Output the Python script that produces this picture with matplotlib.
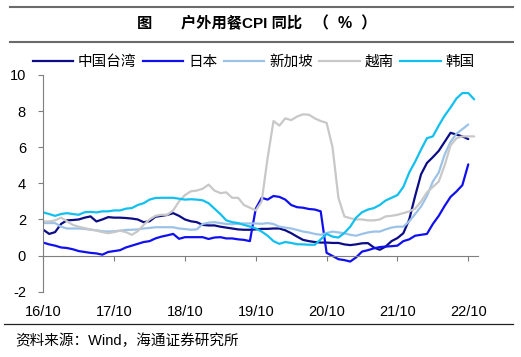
import matplotlib
matplotlib.use("Agg")
import matplotlib.pyplot as plt
from matplotlib.lines import Line2D

plt.rcParams['font.family'] = ['Liberation Sans', 'Noto Sans CJK SC']
plt.rcParams['axes.unicode_minus'] = False

title_parts = ["图", "户外用餐CPI 同比", "（  %  ）"]
source = "资料来源：Wind，海通证券研究所"
series_names = ["中国台湾", "日本", "新加坡", "越南", "韩国"]
colors = ["#0c0c86", "#1010ee", "#9cc2e8", "#c8c8c8", "#12c0f0"]
tick_labels = ["16/10", "17/10", "18/10", "19/10", "20/10", "21/10", "22/10"]
tick_pos = [0, 12, 24, 36, 48, 60, 72]

taiwan = [1.43, 1.2, 1.3, 1.75, 1.95, 1.97, 2.0, 2.1, 2.17, 1.89, 2.0, 2.13,
          2.1, 2.1, 2.08, 2.05, 2.0, 1.85, 1.9, 2.15, 2.2, 2.25, 2.35, 2.2,
          2.0, 1.9, 1.85, 1.7, 1.67, 1.67, 1.6, 1.55, 1.5, 1.45, 1.43, 1.43,
          1.45, 1.48, 1.48, 1.5, 1.5, 1.4, 1.24, 1.05, 0.87, 0.8, 0.75, 0.72,
          0.72, 0.7, 0.7, 0.62, 0.58, 0.62, 0.68, 0.69, 0.45, 0.32, 0.5, 0.8,
          0.97, 1.24, 2.0, 3.3, 4.5, 5.13, 5.45, 5.8, 6.3, 6.8, 6.7, 6.6, 6.45]
japan = [0.72, 0.62, 0.55, 0.45, 0.42, 0.35, 0.25, 0.2, 0.15, 0.12, 0.05, 0.2,
         0.25, 0.3, 0.45, 0.55, 0.65, 0.75, 0.8, 0.95, 1.05, 1.12, 1.2, 0.93,
         1.02, 1.02, 1.02, 1.02, 0.92, 1.0, 1.02, 0.95, 0.95, 0.9, 0.87, 0.8,
         2.6, 3.2, 3.1, 3.3, 3.25, 3.1, 2.8, 2.68, 2.65, 2.58, 2.55, 2.45,
         0.15, -0.02, -0.2, -0.25, -0.33, -0.1, 0.22, 0.3, 0.4, 0.47, 0.5, 0.52,
         0.55, 0.8, 0.9, 1.1, 1.15, 1.2, 1.75, 2.2, 2.75, 3.25, 3.55, 3.9, 5.05]
singapore = [1.8, 1.8, 1.8, 1.6, 1.5, 1.5, 1.5, 1.48, 1.43, 1.4, 1.35, 1.33,
             1.35, 1.38, 1.42, 1.43, 1.45, 1.5, 1.53, 1.57, 1.57, 1.57, 1.57, 1.5,
             1.47, 1.43, 1.45, 1.75, 1.82, 1.85, 1.8, 1.75, 1.74, 1.76, 1.78, 1.78,
             1.78, 1.76, 1.8, 1.75, 1.6, 1.55, 1.5, 1.42, 1.33, 1.28, 1.2, 1.15,
             1.25, 1.33, 1.28, 1.24, 1.15, 1.1, 1.2, 1.28, 1.33, 1.33, 1.45, 1.55,
             1.6, 1.6, 1.9, 2.3, 2.72, 3.3, 4.1, 4.6, 5.6, 6.3, 6.75, 7.0, 7.26]
vietnam = [1.89, 1.89, 1.95, 2.1, 1.9, 1.7, 1.6, 1.52, 1.45, 1.38, 1.3, 1.24,
           1.3, 1.38, 1.3, 1.15, 1.35, 1.7, 2.0, 2.2, 2.26, 2.26, 2.5, 3.0,
           3.35, 3.56, 3.6, 3.7, 3.93, 3.6, 3.46, 3.5, 3.2, 3.2, 2.8, 2.65,
           2.5, 3.0, 5.4, 7.45, 7.2, 7.6, 7.5, 7.7, 7.82, 7.8, 7.6, 7.45,
           7.35, 6.0, 3.2, 2.17, 2.07, 2.0, 2.0, 1.95, 1.95, 2.0, 2.17, 2.2,
           2.26, 2.35, 2.45, 2.6, 3.0, 3.5, 3.8, 4.1, 5.0, 6.1, 6.5, 6.6, 6.6, 6.6]
korea = [2.39, 2.3, 2.2, 2.3, 2.35, 2.3, 2.26, 2.4, 2.42, 2.39, 2.45, 2.45,
         2.5, 2.5, 2.6, 2.63, 2.8, 2.9, 3.1, 3.19, 3.2, 3.2, 3.2, 3.15,
         3.1, 3.12, 3.1, 3.06, 2.9, 2.6, 2.3, 1.95, 1.85, 1.8, 1.7, 1.61,
         1.5, 1.33, 1.1, 0.8, 0.65, 0.75, 0.7, 0.63, 0.62, 0.6, 0.6, 0.9,
         1.2, 1.05, 1.0, 1.25, 1.6, 2.1, 2.4, 2.55, 2.63, 2.8, 3.05, 3.2,
         3.35, 3.8, 4.6, 5.2, 5.87, 6.5, 6.6, 7.2, 7.75, 8.2, 8.7, 9.0, 9.0, 8.65]

data = [taiwan, japan, singapore, vietnam, korea]

W, H = 521, 357
fig = plt.figure(figsize=(W / 100, H / 100), dpi=100)
ax = fig.add_axes([43.3 / W, 1 - 291.7 / H, (478.3 - 43.3) / W, (291.7 - 75) / H])

for name, vals, c in zip(series_names, data, colors):
    ax.plot(range(len(vals)), vals, color=c, lw=1.6, label=name, solid_capstyle='round')

ax.set_xlim(0, 73.7)
ax.set_ylim(-2, 10)
ax.set_yticks([-2, 0, 2, 4, 6, 8, 10])
ax.set_xticks(tick_pos)
ax.set_xticklabels(tick_labels)
for s in ['top', 'right']:
    ax.spines[s].set_visible(False)
ax.spines['bottom'].set_position(('data', 0))
ax.spines['bottom'].set_color('#7f7f7f')
ax.spines['left'].set_color('#7f7f7f')
ax.tick_params(axis='y', direction='out', length=3.5, color='#7f7f7f', labelsize=10.5, pad=9)
ax.tick_params(axis='x', direction='out', length=3.5, color='#7f7f7f', labelsize=10.5, pad=32)

# legend
handles = [Line2D([], [], color=c, lw=1.6) for c in colors]
fig.legend(handles, series_names, loc='center', bbox_to_anchor=(0.487, 1 - 62 / H),
           ncol=5, frameon=False, fontsize=10.5, handlelength=2.75,
           handletextpad=0.35, columnspacing=0.45, borderaxespad=0)

# title and rules
fig.add_artist(Line2D([10 / W, 513 / W], [1 - 7 / H] * 2, color='#6b6b6b', lw=1.5))
fig.add_artist(Line2D([10 / W, 513 / W], [1 - 41.5 / H] * 2, color='#6b6b6b', lw=1.5))
ty = 1 - 24 / H
title_layout = [(137, 'left', 11), (181, 'left', 11), (377, 'right', 11.5)]
for part, (px, ha, fs) in zip(title_parts, title_layout):
    fig.text(px / W, ty, part, ha=ha, va='center', fontsize=fs, fontweight='bold')
fig.add_artist(Line2D([4 / W, 513 / W], [1 - 323.5 / H] * 2, color='#222222', lw=0.9))
fig.text(15 / W, 1 - 340.5 / H, source, ha='left', va='center', fontsize=10.5)

fig.savefig('out.png', dpi=100)
